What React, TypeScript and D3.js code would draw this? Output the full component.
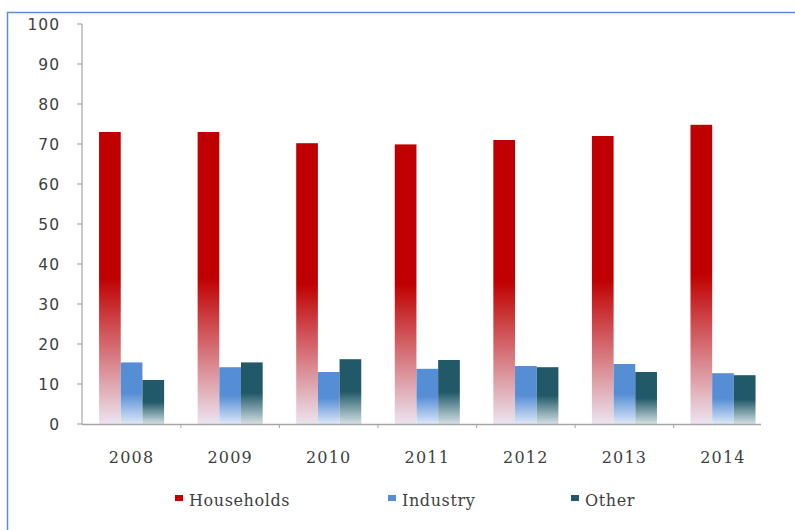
import React from "react";
import * as d3 from "d3";

const years = ["2008", "2009", "2010", "2011", "2012", "2013", "2014"];
const households = [73, 73, 70.2, 69.9, 71, 72, 74.8];
const industry = [15.4, 14.2, 13, 13.8, 14.5, 15, 12.7];
const other = [11, 15.4, 16.2, 16, 14.2, 13, 12.2];
const seriesNames = ["Households", "Industry", "Other"];
const yTicks = [0, 10, 20, 30, 40, 50, 60, 70, 80, 90, 100];

const colors = ["#c00000", "#558ed5", "#215968"];
const fadeColors = ["#ebe4f0", "#dde8f8", "#d3e0e4"];

export default function App() {
  const W = 795, H = 530;
  const y = d3.scaleLinear().domain([0, 100]).range([424, 24]);
  const x = d3.scaleBand<string>().domain(years).range([82.3, 772.3]).paddingInner(0.34).paddingOuter(0.17);
  const sub = d3.scaleBand<string>().domain(seriesNames).range([0, x.bandwidth()]);
  const data = [households, industry, other];
  const gap = (x.step() - x.bandwidth()) / 2;
  const axisL = 82, axisR = 761;
  const textColor = "#404040";

  return (
    <svg width={W} height={H} style={{ position: "absolute", left: 0, top: 0, background: "#fff" }}>
      <defs>
        {colors.map((c, i) => (
          <linearGradient key={i} id={`g${i}`} x1="0" y1="0" x2="0" y2="1">
            <stop offset="0" stopColor={c} />
            <stop offset="0.5" stopColor={c} />
            <stop offset="1" stopColor={fadeColors[i]} />
          </linearGradient>
        ))}
      </defs>
      <rect x={0} y={0} width={W} height={H} fill="#fff" />
      {/* border */}
      <path d={`M7.5,${H} V12.5 H${W}`} fill="none" stroke="#5b8ed0" strokeWidth={1.5} />

      {/* y axis */}
      <line x1={axisL} x2={axisL} y1={y(100)} y2={y(0)} stroke="#a6a6a6" strokeWidth={1.2} />
      {yTicks.map((t) => (
        <g key={t}>
          <line x1={axisL - 5} x2={axisL} y1={y(t)} y2={y(t)} stroke="#a6a6a6" strokeWidth={1.2} />
          <text x={60} y={y(t)} dy="0.36em" textAnchor="end" fontFamily="DejaVu Sans" fontSize={15.5} letterSpacing={1} fill={textColor}>
            {t}
          </text>
        </g>
      ))}

      {/* bars */}
      {years.map((yr, i) => (
        <g key={yr} transform={`translate(${x(yr)},0)`}>
          {seriesNames.map((s, j) => (
            <rect
              key={s}
              x={sub(s)}
              y={y(data[j][i])}
              width={sub.bandwidth()}
              height={y(0) - y(data[j][i])}
              fill={`url(#g${j})`}
            />
          ))}
        </g>
      ))}

      {/* x axis */}
      <line x1={axisL} x2={axisR} y1={y(0) + 0.5} y2={y(0) + 0.5} stroke="#a6a6a6" strokeWidth={1.5} />
      {years.slice(1).map((yr) => (
        <line key={yr} x1={(x(yr) as number) - gap} x2={(x(yr) as number) - gap} y1={y(0)} y2={y(0) + 4} stroke="#a6a6a6" strokeWidth={1} />
      ))}
      {years.map((yr) => (
        <text key={yr} x={(x(yr) as number) + x.bandwidth() / 2} y={463} textAnchor="middle" fontFamily="DejaVu Serif" fontSize={16} letterSpacing={1.2} fill={textColor}>
          {yr}
        </text>
      ))}

      {/* legend */}
      {seriesNames.map((s, j) => {
        const lx = [175, 388, 571][j];
        return (
          <g key={s}>
            <rect x={lx} y={495} width={8} height={6} fill={colors[j]} />
            <text x={lx + 14} y={506} fontFamily="DejaVu Serif" fontSize={16} letterSpacing={0.6} fill={textColor}>
              {s}
            </text>
          </g>
        );
      })}
    </svg>
  );
}
